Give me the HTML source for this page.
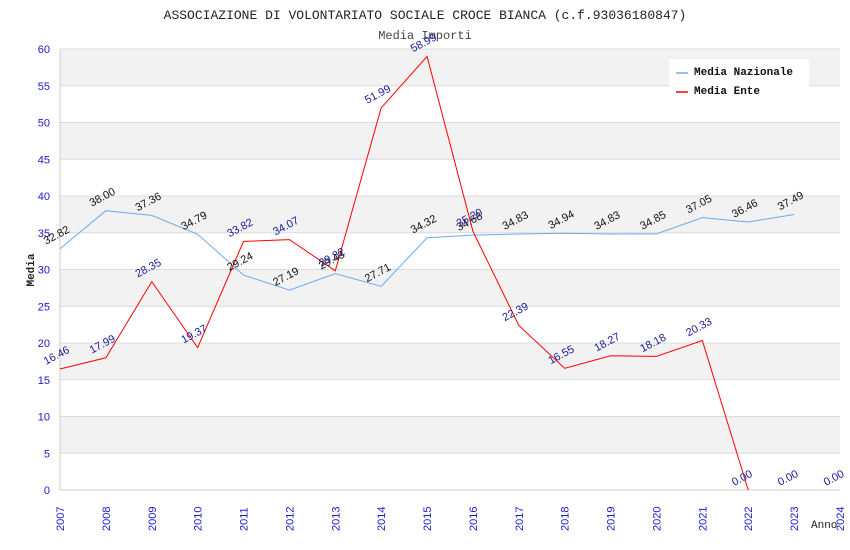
<!DOCTYPE html>
<html><head><meta charset="utf-8"><style>
body{margin:0;background:#fff;}
svg{display:block;}
</style></head><body>
<svg id="chart" width="850" height="550" xmlns="http://www.w3.org/2000/svg">
<rect width="850" height="550" fill="#fff"/>
<text x="425" y="19" text-anchor="middle" font-family="Liberation Mono, monospace" font-size="13" fill="#222">ASSOCIAZIONE DI VOLONTARIATO SOCIALE CROCE BIANCA (c.f.93036180847)</text>
<text x="425" y="39" text-anchor="middle" font-family="Liberation Mono, monospace" font-size="12" fill="#444">Media Importi</text>
<g id="grid"></g><g id="axes"></g><g id="series"></g><g id="labels"></g>
<text x="34" y="270" transform="rotate(-90 34 270)" text-anchor="middle" font-family="Liberation Mono, monospace" font-size="11" font-weight="bold" fill="#222">Media</text>
<text x="811" y="528" font-family="Liberation Mono, monospace" font-size="11" fill="#222">Anno</text>
<g>
<rect x="669" y="59" width="140" height="42" fill="#fff"/>
<line x1="676" y1="73" x2="688" y2="73" stroke="#6aaaf0" stroke-width="1.5"/>
<text x="694" y="75" font-family="Liberation Mono, monospace" font-size="11" font-weight="bold" fill="#111">Media Nazionale</text>
<line x1="676" y1="92" x2="688" y2="92" stroke="#f00" stroke-width="1.5"/>
<text x="694" y="94" font-family="Liberation Mono, monospace" font-size="11" font-weight="bold" fill="#111">Media Ente</text>
</g>
</svg>
<script>
const years=[2007,2008,2009,2010,2011,2012,2013,2014,2015,2016,2017,2018,2019,2020,2021,2022,2023,2024];
const nazionale=[32.82,38.00,37.36,34.79,29.24,27.19,29.43,27.71,34.32,34.68,34.83,34.94,34.83,34.85,37.05,36.46,37.49];
const ente=[16.46,17.99,28.35,19.37,33.82,34.07,29.82,51.99,58.99,35.20,22.39,16.55,18.27,18.18,20.33,0.00,0.00,0.00];
const yTicks=[0,5,10,15,20,25,30,35,40,45,50,55,60];
const NS="http://www.w3.org/2000/svg";
const X0=60,X1=840,Y0=490,Y1=49;
const x=y=>X0+(y-2007)*(X1-X0)/(2024-2007);
const yv=v=>Y0-v*(Y0-Y1)/60;
function mk(t,a,p){const e=document.createElementNS(NS,t);for(const k in a)e.setAttribute(k,a[k]);p.appendChild(e);return e;}
const grid=document.getElementById('grid'),axes=document.getElementById('axes'),ser=document.getElementById('series'),lab=document.getElementById('labels');
for(let i=0;i<yTicks.length-1;i++){
 if(i%2==1){const r=mk('rect',{x:X0,y:yv(yTicks[i+1]),width:X1-X0,height:yv(yTicks[i])-yv(yTicks[i+1]),fill:'#f2f2f2'},grid);
 
 }
}
yTicks.forEach(t=>{
 const l=mk('line',{x1:X0,x2:X1,y1:yv(t),y2:yv(t),stroke:'#dcdcdc'},grid);
 
 
 const tx=mk('text',{x:X0-10,y:yv(t)+4,'text-anchor':'end','font-family':'Liberation Sans, sans-serif','font-size':11,fill:'#1a1acc'},axes);
 tx.textContent=t;
 
 
});
mk('line',{x1:X0,x2:X0,y1:Y1,y2:Y0,stroke:'#ccc'},axes);
mk('line',{x1:X0,x2:X1,y1:Y0,y2:Y0,stroke:'#ccc'},axes);
years.forEach(yr=>{
 const px=x(yr);
 const tx=mk('text',{x:px+4,y:531,transform:`rotate(-90 ${px+4} 531)`,'font-family':'Liberation Sans, sans-serif','font-size':11,fill:'#1a1acc'},axes);
 tx.textContent=yr;
 
 
});
function series(vals,color,name,lblColor,n){
 const pts=vals.slice(0,n).map((v,i)=>x(years[i])+','+yv(v)).join(' ');
 const pl=mk('polyline',{points:pts,fill:'none',stroke:color,'stroke-width':1},ser);
 
 
 vals.forEach((v,i)=>{
  const px=x(years[i])-14,py=yv(v)-4;
  const t=mk('text',{x:px,y:py,transform:`rotate(-28 ${px} ${py})`,'font-family':'Liberation Sans, sans-serif','font-size':11,fill:lblColor},lab);
  t.textContent=v.toFixed(2);
  
  
 });
}
series(nazionale,'#6aaaf0','nazionale','#111',nazionale.length);
series(ente,'#f00','ente','#1a1a99',16);
</script>
</body></html>
